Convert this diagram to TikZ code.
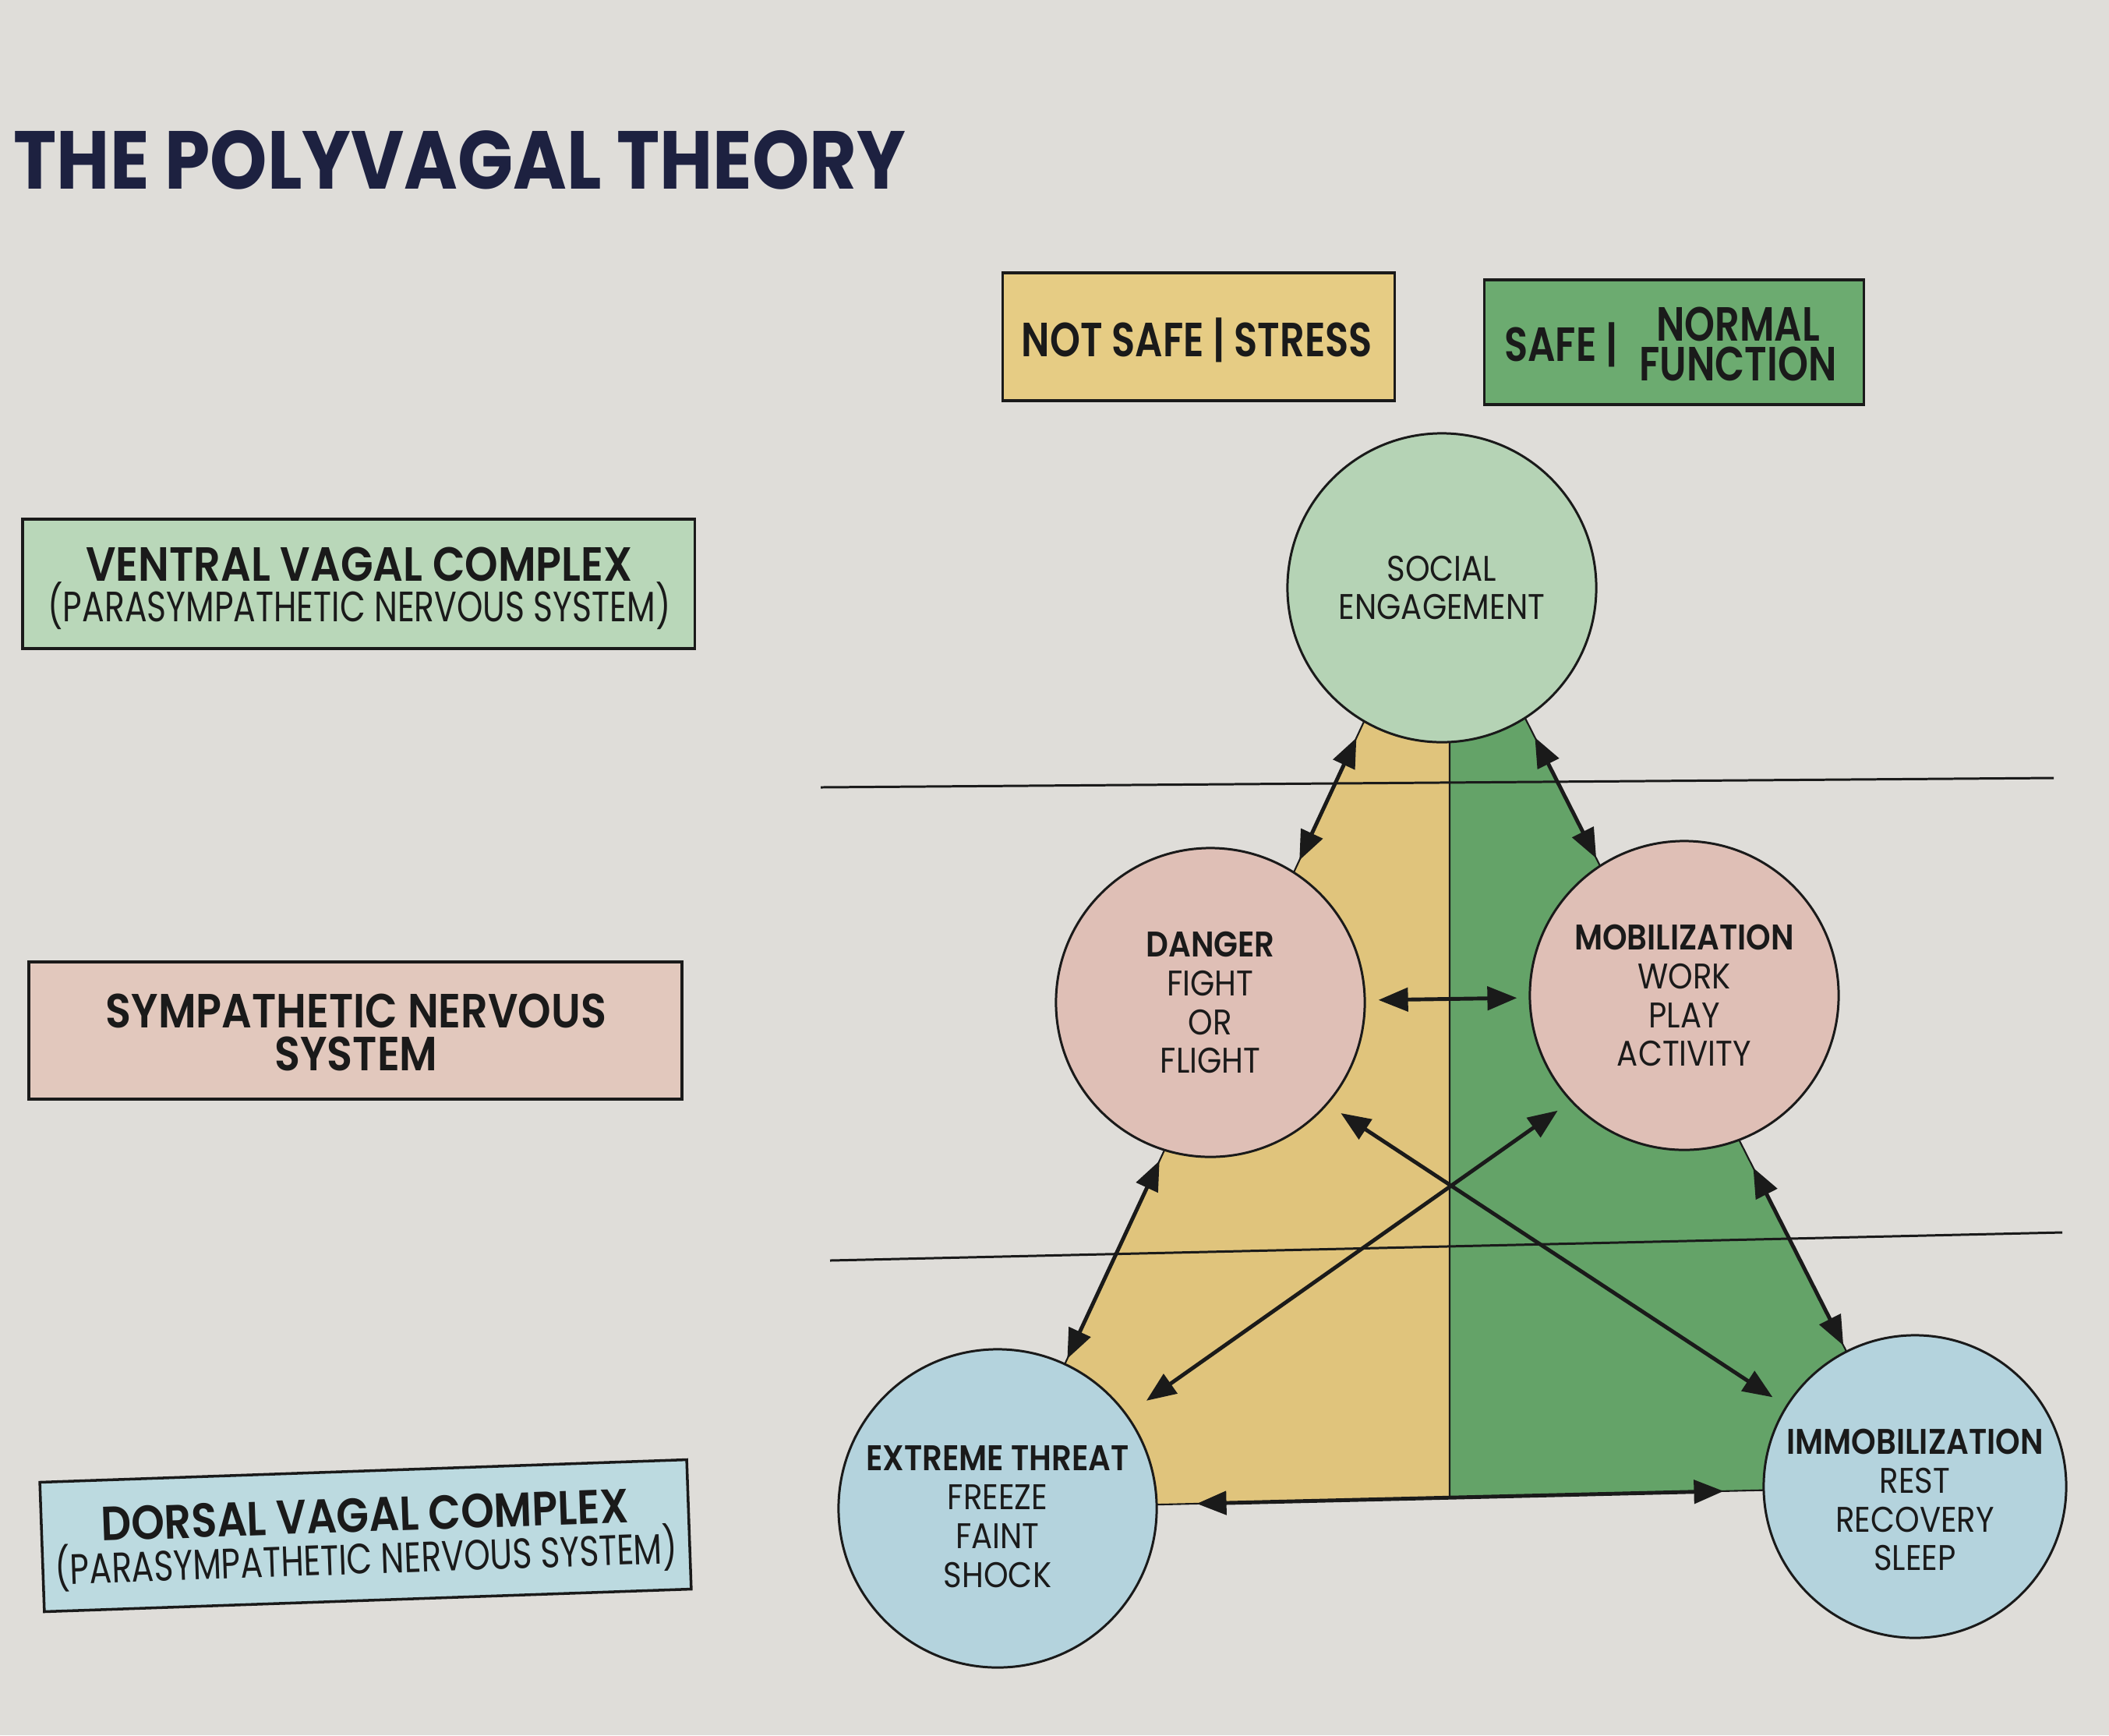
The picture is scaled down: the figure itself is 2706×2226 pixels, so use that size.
\documentclass[tikz,border=0pt]{standalone}
\usepackage{fontspec}
\setmainfont{Poppins}[FakeStretch=0.88, BoldFont={Poppins SemiBold}]
\newfontfamily\heavy{Poppins Bold}[FakeStretch=0.885]
\newfontfamily\narrowreg{Poppins}[FakeStretch=0.78]
\usetikzlibrary{arrows.meta,calc}

\definecolor{paper}{HTML}{DFDDD9}
\definecolor{ink}{HTML}{1A1A1A}
\definecolor{navy}{HTML}{1D2140}
\definecolor{stressY}{HTML}{E0C47C}
\definecolor{safeG}{HTML}{64A368}
\definecolor{boxY}{HTML}{E6CC84}
\definecolor{boxG}{HTML}{6CAB70}
\definecolor{ventralc}{HTML}{B9D7B9}
\definecolor{socialc}{HTML}{B5D3B5}
\definecolor{sympc}{HTML}{E2C8BD}
\definecolor{pinkc}{HTML}{DFBFB6}
\definecolor{dorsalc}{HTML}{BCDAE0}
\definecolor{bluec}{HTML}{B4D3DD}

\tikzset{
  labelbox/.style={draw=ink, line width=1pt, inner sep=0},
  head/.style={font=\bfseries\fontsize{17.5}{14.5}\selectfont, text=ink, inner sep=0, anchor=base, align=center},
  legend/.style={head, xscale=0.915},
  sub/.style={font=\narrowreg\fontsize{15.5}{16}\selectfont, text=ink, inner sep=0, anchor=base},
  state/.style={circle, draw=ink, line width=0.85pt, inner sep=0, align=center, text=ink,
    font=\fontsize{13}{14.2}\selectfont},
  statetext/.style={inner sep=0, align=center, text=ink, font=\fontsize{13}{14.2}\selectfont},
  edge/.style={draw=ink, line width=0.6pt},
  rule/.style={draw=ink, line width=0.85pt},
  link/.style={draw=ink, line width=1.4pt,
    {Triangle[length=0.38cm,width=0.3cm]}-{Triangle[length=0.38cm,width=0.3cm]}}
}

\begin{document}
\begin{tikzpicture}[x=0.01cm, y=-0.01cm]
\fill[paper] (0,0) rectangle (2706,2226);
\useasboundingbox (0,0) rectangle (2706,2226);

% heading
\node[anchor=base west, inner sep=0, text=navy, font=\heavy\fontsize{30}{36}\selectfont]
  (title) at (17,242) {THE POLYVAGAL THEORY};

% legend boxes
\node[labelbox, fill=boxY, minimum width=5.03cm, minimum height=1.64cm] (stress) at (1538,432) {};
\node[legend] (stresstext) at (1536,457) {NOT SAFE | STRESS};
\node[labelbox, fill=boxG, minimum width=4.87cm, minimum height=1.60cm] (safe) at (2148,439) {};
\node[legend] (safetext) at (2003,463) {SAFE |};
\node[legend] (normaltext) at (2230,437) {NORMAL};
\node[legend] (functiontext) at (2230,488) {FUNCTION};

% nervous system boxes
\node[labelbox, fill=ventralc, minimum width=8.62cm, minimum height=1.66cm] (ventral) at (460,749) {};
\node[head] (ventralhead) at (461,745) {VENTRAL VAGAL COMPLEX};
\node[sub] (ventralsub) at (461,797) {(PARASYMPATHETIC NERVOUS SYSTEM)};

\node[labelbox, fill=sympc, minimum width=8.37cm, minimum height=1.76cm] (symp) at (456,1322) {};
\node[head] (symphead) at (457,1318) {SYMPATHETIC NERVOUS};
\node[head] (symphead2) at (457,1373) {SYSTEM};

\begin{scope}[rotate around={2:(469,1970)}, transform shape]
  \node[labelbox, fill=dorsalc, minimum width=8.30cm, minimum height=1.66cm] (dorsal) at (469,1970) {};
  \node[head] (dorsalhead) at (469,1965) {DORSAL VAGAL COMPLEX};
  \node[sub] (dorsalsub) at (469,2019) {(PARASYMPATHETIC NERVOUS SYSTEM)};
\end{scope}

% state centres and the two-coloured triangle
\coordinate (cS) at (1850,754);
\coordinate (cD) at (1553,1286);
\coordinate (cM) at (2161,1277);
\coordinate (cE) at (1280,1935);
\coordinate (cI) at (2457,1907);
\coordinate (apexL) at (1830,754);
\coordinate (apexR) at (1872,754);
\coordinate (midTop) at (1860,754);
\coordinate (midBot) at ($(cE)!0.4928!(cI)$);

\fill[stressY] (apexL) -- (midTop) -- (midBot) -- (cE) -- cycle;
\fill[safeG] (midTop) -- (apexR) -- (cI) -- (midBot) -- cycle;
\draw[edge] (apexL) -- (cE) -- (cI) -- (apexR);
\draw[edge] (midTop) -- (midBot);

% level separators
\coordinate (r1a) at (1053,1010);
\coordinate (r1b) at (2635,998);
\coordinate (r2a) at (1065,1617);
\coordinate (r2b) at (2646,1581);
\draw[rule] (r1a) -- (r1b);
\draw[rule] (r2a) -- (r2b);

% states
\node[state, fill=socialc, minimum size=3.96cm] (social) at (cS) {SOCIAL\\ENGAGEMENT};
\node[state, fill=pinkc, minimum size=3.96cm] (danger) at (cD) {\textbf{DANGER}\\FIGHT\\OR\\FLIGHT};
\node[state, fill=pinkc, minimum size=3.96cm] (mobil) at (cM) {\textbf{MOBILIZATION}\\WORK\\PLAY\\ACTIVITY};
\node[state, fill=bluec, minimum size=4.08cm] (extreme) at (cE) {};
\node[statetext] (extremetext) at ($(cE)+(0,11)$) {\textbf{EXTREME THREAT}\\FREEZE\\FAINT\\SHOCK};
\node[state, fill=bluec, minimum size=3.88cm] (immob) at (cI) {};
\node[statetext] (immobtext) at ($(cI)+(0,17)$) {\textbf{IMMOBILIZATION}\\REST\\RECOVERY\\SLEEP};

% transitions along the sides
\draw[link] ($(apexL)!0.163!(cE)$) -- ($(apexL)!0.296!(cE)$);
\draw[link] ($(apexR)!0.1665!(cI)$) -- ($(apexR)!0.301!(cI)$);
\draw[link] ($(apexL)!0.6224!(cE)$) -- ($(apexL)!0.8374!(cE)$);
\draw[link] ($(apexR)!0.6453!(cI)$) -- ($(apexR)!0.843!(cI)$);

% transitions across
\draw[link, shorten <=0.16cm, shorten >=0.15cm] (danger) -- (mobil);
\draw[link, shorten <=0.5cm, shorten >=0.5cm] (extreme) -- (immob);
\draw[link, shorten <=0.3cm, shorten >=0.2cm] (extreme.36) -- (mobil.223);
\draw[link, shorten <=0.2cm, shorten >=0.2cm] (danger.319) -- (immob.148);
\end{tikzpicture}
\end{document}
